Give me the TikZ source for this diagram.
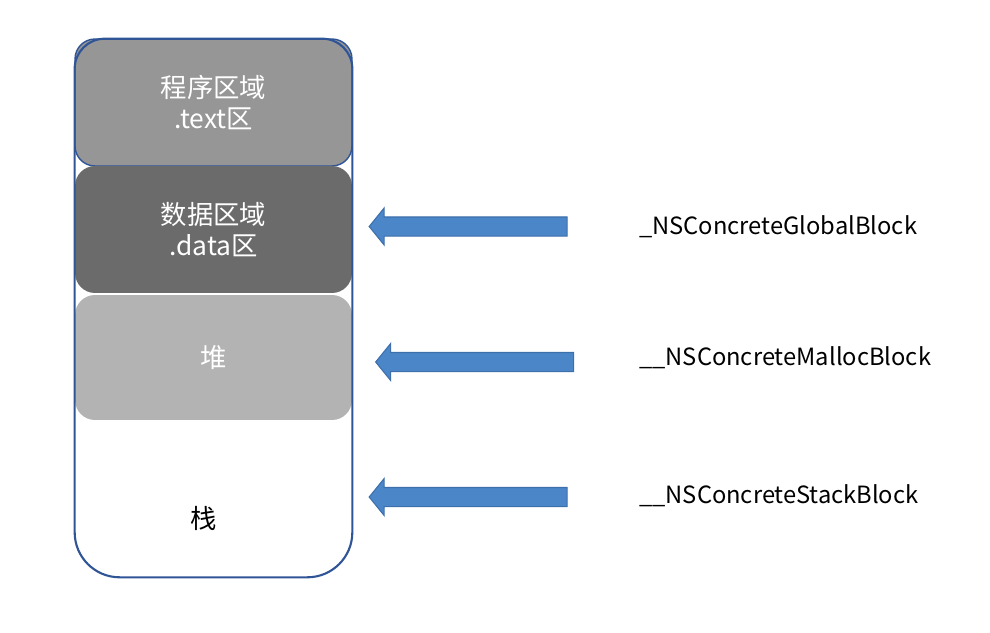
\documentclass[tikz,border=0pt]{standalone}
\usepackage{fontspec}
\newfontfamily\cjk{Noto Sans CJK SC}
\usetikzlibrary{shapes.arrows, positioning, calc}
\definecolor{frameblue}{HTML}{2F5597}
\definecolor{arrowblue}{HTML}{4A86C8}
\definecolor{arrowedge}{HTML}{3D6FAA}
\definecolor{textgray}{HTML}{969696}
\definecolor{datagray}{HTML}{6B6B6B}
\definecolor{heapgray}{HTML}{B3B3B3}
\tikzset{
  memblock/.style={
    rectangle, rounded corners=0.4cm, minimum width=5.54cm, minimum height=2.54cm,
    align=center, font=\cjk\fontsize{15}{18}\selectfont, text=white, inner sep=0pt
  },
  textseg/.style={memblock, fill=textgray, draw=frameblue, line width=0.8pt},
  dataseg/.style={memblock, fill=datagray},
  heapseg/.style={memblock, fill=heapgray, minimum height=2.5cm},
  frame/.style={draw=frameblue, line width=1.2pt},
  blockarrow/.style={
    single arrow, shape border rotate=180, fill=arrowblue, draw=arrowedge, line width=0.6pt,
    minimum height=3.96cm, inner sep=0.18cm, single arrow head extend=0.18cm,
    single arrow tip angle=102
  },
  blocklabel/.style={anchor=west, font=\cjk\fontsize{13.5}{16}\selectfont}
}

\begin{document}
\begin{tikzpicture}[x=0.02cm, y=-0.02cm]
    \useasboundingbox (0,0) rectangle (990,632);
    % memory segments
    \node[textseg] (sText) at (213.5,102.5) {程序区域\\.text区};
    \node[dataseg] (sData) at (213.5,229.5) {数据区域\\.data区};
    \node[heapseg] (sHeap) at (213.5,357.5) {堆};
    \node[font=\cjk\fontsize{15}{18}\selectfont] (sStack) at (204,518) {栈};
    \node[minimum width=5.54cm, minimum height=10.76cm] (memory) at (213.5,308) {};
    \draw[frame] (memory.north) [rounded corners=0.6cm] -| (memory.west)
      [rounded corners=0.9cm] |- (memory.south) -| (memory.east)
      [rounded corners=0.6cm] |- (memory.north);
    % block kinds
    \node[blockarrow] (aGlobal) at (472,226.5) {};
    \node[blockarrow] (aMalloc) at (478.5,362) {};
    \node[blockarrow] (aStack) at (472,497) {};
    \node[blocklabel] (lGlobal) at (633,226.5) {\_NSConcreteGlobalBlock};
    \node[blocklabel] (lMalloc) at (633,358) {\_\_NSConcreteMallocBlock};
    \node[blocklabel] (lStack) at (633,496) {\_\_NSConcreteStackBlock};
\end{tikzpicture}
\end{document}
